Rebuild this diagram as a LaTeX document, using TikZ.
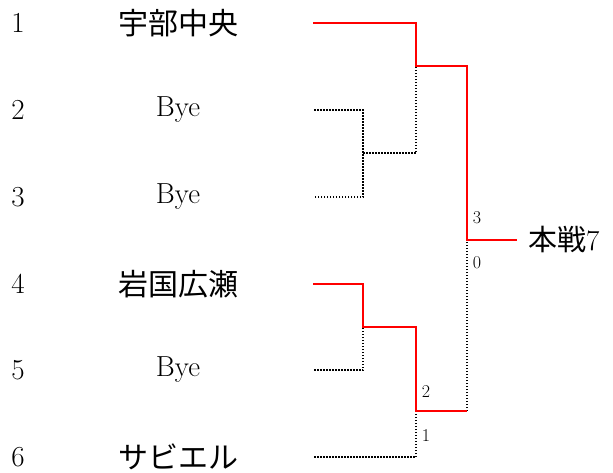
\documentclass[tikz,border=0pt]{standalone}
\usepackage{fontspec}
\newfontfamily\jp{Noto Sans CJK JP}
\begin{document}
\begin{tikzpicture}[x=1pt,y=-1pt,
  seed/.style={font=\fontsize{29}{32}\selectfont},
  team/.style={font=\fontsize{29}{32}\selectfont},
  jteam/.style={font=\fontsize{30}{33}\selectfont\jp},
  score/.style={font=\fontsize{18}{20}\selectfont, inner sep=0pt},
  win/.style={draw=red, line width=1.7pt},
  lose/.style={draw=black, line width=1.8pt, dash pattern=on 1.5pt off 1.5pt}]
\useasboundingbox (0,0) rectangle (613,472);
% seeds
\node[seed] (s1) at (18,23) {1};
\node[seed] (s2) at (18,110) {2};
\node[seed] (s3) at (18,197) {3};
\node[seed] (s4) at (18,284) {4};
\node[seed] (s5) at (18,370) {5};
\node[seed] (s6) at (18,457) {6};
% teams
\node[jteam] (t1) at (178,23) {宇部中央};
\node[team] (t2) at (178,110) {Bye};
\node[team] (t3) at (178,197) {Bye};
\node[jteam] (t4) at (178,284) {岩国広瀬};
\node[team] (t5) at (178,370) {Bye};
\node[jteam] (t6) at (178,457) {サビエル};
% bracket points
\coordinate (a1) at (313,23);  \coordinate (j1) at (416,23);
\coordinate (a2) at (314,110); \coordinate (j2) at (363,110);
\coordinate (a3) at (314,197); \coordinate (j3) at (363,197);
\coordinate (m23) at (363,153); \coordinate (k23) at (416,153);
\coordinate (m1) at (416,66);  \coordinate (n1) at (467,66);
\coordinate (a4) at (313,284); \coordinate (j4) at (363,284);
\coordinate (a5) at (314,370); \coordinate (j5) at (363,370);
\coordinate (m45) at (363,327); \coordinate (k45) at (416,327);
\coordinate (a6) at (314,457); \coordinate (j6) at (416,457);
\coordinate (m6) at (416,411); \coordinate (n6) at (467,411);
\coordinate (f) at (467,240);  \coordinate (w) at (517,240);
% losing lines
\draw[lose] (a2) -- (j2) -- (j3) -- (a3);
\draw[lose] (m23) -- (k23) -- (m1);
\draw[lose] (a5) -- (j5) -- (m45);
\draw[lose] (a6) -- (j6) -- (m6);
\draw[lose] (n6) -- (f);
% winning lines
\draw[win] (a1) -- (j1) -- (m1) -- (n1) -- (f) -- (w);
\draw[win] (a4) -- (j4) -- (m45) -- (k45) -- (m6) -- (n6);
% scores
\node[score] (c3) at (477,218) {3};
\node[score] (c0) at (477,263) {0};
\node[score] (c2) at (426,392) {2};
\node[score] (c1) at (426,436) {1};
% final
\node[team, anchor=west, inner sep=0pt] (fin) at (528,240) {{\jp 本戦}7};
\end{tikzpicture}
\end{document}
